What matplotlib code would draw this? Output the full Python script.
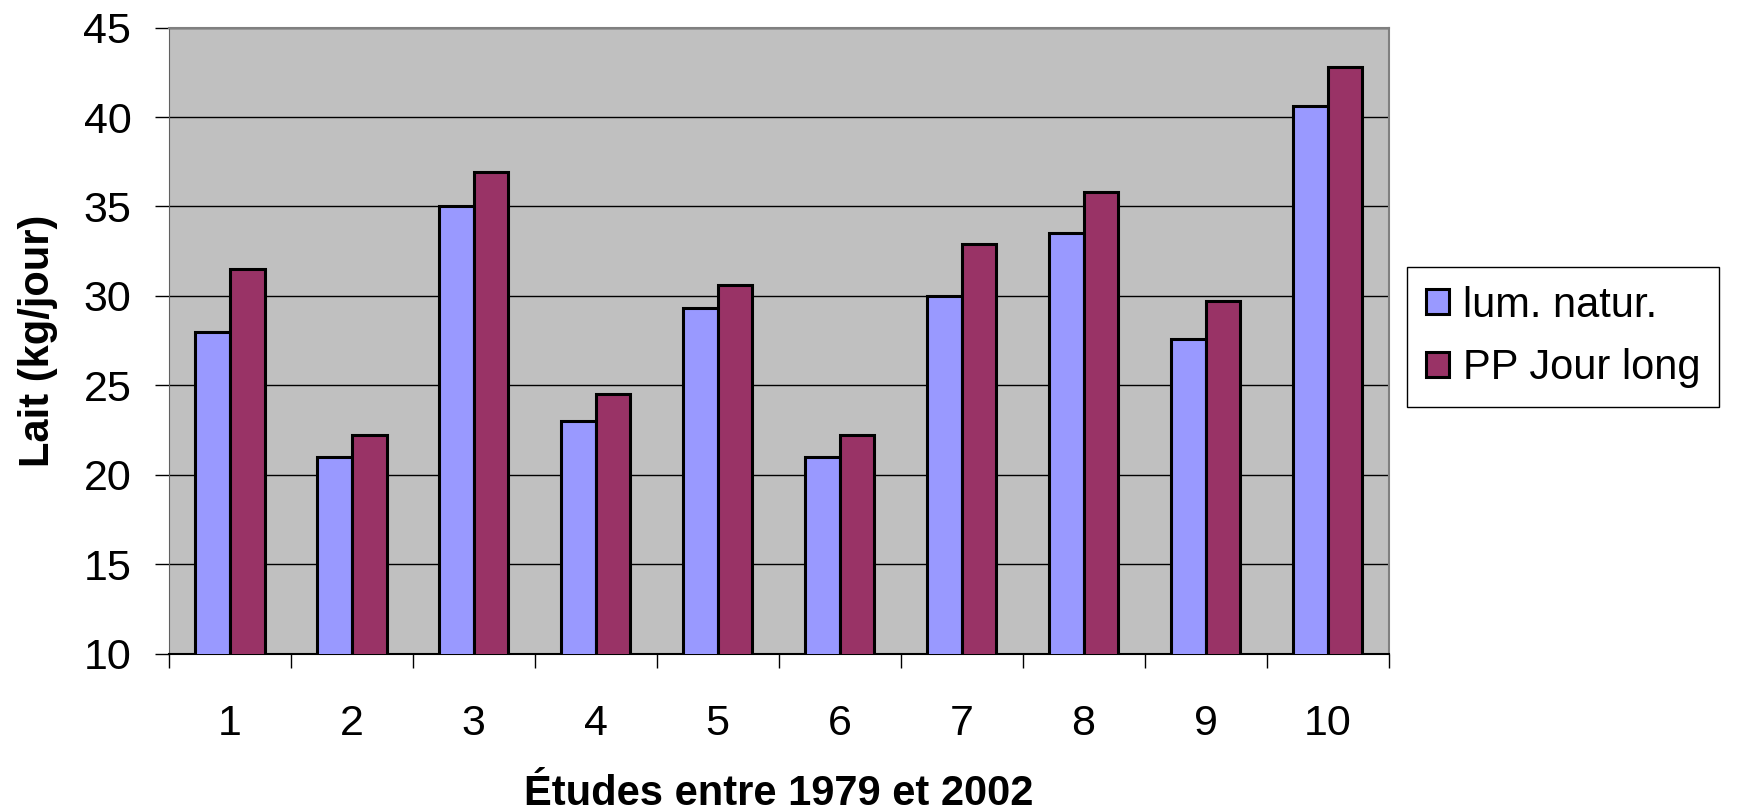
import numpy as np
import matplotlib
matplotlib.use("Agg")
import matplotlib.pyplot as plt

plt.rcParams['font.family'] = ['Liberation Sans', 'DejaVu Sans']

etudes = ['1', '2', '3', '4', '5', '6', '7', '8', '9', '10']
lum_natur = [28.0, 21.0, 35.0, 23.0, 29.3, 21.0, 30.0, 33.5, 27.6, 40.6]
pp_jour_long = [31.5, 22.2, 36.9, 24.5, 30.6, 22.2, 32.9, 35.8, 29.7, 42.8]

fig = plt.figure(figsize=(17.4, 8.11), dpi=100)
ax = fig.add_axes([0.097, 0.194, 0.701, 0.772])
ax.set_facecolor('#C0C0C0')

x = np.arange(len(etudes))
w = 0.285
ax.bar(x - w/2, lum_natur, w, color='#9999FF', edgecolor='black', linewidth=2.2,
       label='lum. natur.', zorder=3)
ax.bar(x + w/2, pp_jour_long, w, color='#993366', edgecolor='black', linewidth=2.2,
       label='PP Jour long', zorder=3)

ax.set_ylim(10, 45)
ax.set_yticks(np.arange(10, 46, 5))
ax.set_xlim(-0.5, len(etudes) - 0.5)
ax.set_xticks(x)
ax.set_xticklabels(etudes)
ax.set_xticks(np.arange(-0.5, len(etudes)), minor=True)
ax.grid(axis='y', color='black', linewidth=1, zorder=1)
ax.set_axisbelow(True)

ax.tick_params(axis='x', which='major', length=0, pad=36, labelsize=31)
ax.tick_params(axis='x', which='minor', length=10, width=1, color='black')
ax.tick_params(axis='y', length=10, width=1, pad=17, labelsize=31)

for s in ['top', 'right']:
    ax.spines[s].set_color('#808080')
    ax.spines[s].set_linewidth(1.5)
ax.spines['left'].set_color('#606060')
ax.spines['bottom'].set_color('black')
ax.spines['bottom'].set_linewidth(1.5)

ax.set_xlabel('Études entre 1979 et 2002', fontsize=30, fontweight='bold', labelpad=22)
ax.set_ylabel('Lait (kg/jour)', fontsize=30, fontweight='bold', labelpad=18)

leg = fig.legend(loc='center left', bbox_to_anchor=(0.8086, 0.5845), fontsize=30,
                 frameon=True, fancybox=False, edgecolor='black', framealpha=1,
                 handlelength=0.55, handleheight=0.55, handletextpad=0.35,
                 borderpad=0.45, labelspacing=0.55, borderaxespad=0)
leg.get_frame().set_linewidth(1)

fig.savefig('out.png', dpi=100)
